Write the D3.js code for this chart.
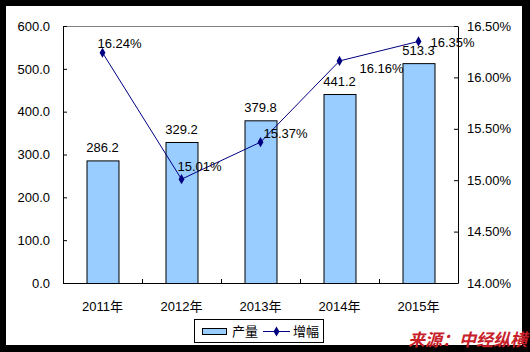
<!DOCTYPE html>
<html>
<head>
<meta charset="utf-8">
<script src="https://cdn.jsdelivr.net/npm/d3@7"></script>
<style>
  body { margin: 0; background: #000; }
  svg { display: block; }
  text { font-family: "Liberation Sans", Arial, "Noto Sans CJK SC", sans-serif; font-size: 13px; fill: #000; }
</style>
</head>
<body>
<div id="chart-area"></div>
<script>
// data
let years = ["2011年", "2012年", "2013年", "2014年", "2015年"];
let output = [286.2, 329.2, 379.8, 441.2, 513.3];
let growth = [16.24, 15.01, 15.37, 16.16, 16.35];
let leftTicks = [0, 100, 200, 300, 400, 500, 600];
let rightTicks = [14.0, 14.5, 15.0, 15.5, 16.0, 16.5];
// label offsets for the growth labels (dx, dy from point)
let growthLabelPos = [[-5, -5], [-4, -8], [3, -4], [20, 12], [12, 6]];

let W = 530, H = 352;
let margin = {left: 63, right: 72, top: 26, bottom: 69};
let width = W - margin.left - margin.right;
let height = H - margin.top - margin.bottom;

let svg = d3.select("#chart-area")
    .append("svg")
    .attr("width", W)
    .attr("height", H);

// black frame, white card
svg.append("rect").attr("width", W).attr("height", H).attr("fill", "#000");
svg.append("rect")
    .attr("x", 6).attr("y", 6)
    .attr("width", 516).attr("height", 339)
    .attr("fill", "#fff");

let g = svg.append("g")
    .attr("transform", "translate(" + margin.left + "," + margin.top + ")");

let x = d3.scaleBand()
    .domain(years)
    .range([0, width])
    .paddingInner(0.595)
    .paddingOuter(0.2975);

let xb = d3.scaleBand().domain(years).range([0, width]);

let y = d3.scaleLinear().domain([0, 600]).range([height, 0]);
let y2 = d3.scaleLinear().domain([14, 16.5]).range([height, 0]);

// top border of plot area
g.append("line")
    .attr("x1", 0).attr("x2", width)
    .attr("y1", 0.5).attr("y2", 0.5)
    .attr("stroke", "#808080");

// bars
g.selectAll("rect.bar")
    .data(output)
    .enter()
    .append("rect")
    .attr("class", "bar")
    .attr("x", (d, i) => x(years[i]) + 0.5)
    .attr("y", d => y(d) + 0.5)
    .attr("width", x.bandwidth())
    .attr("height", d => height - y(d))
    .attr("fill", "#99ccff")
    .attr("stroke", "#000")
    .attr("stroke-width", 1);

// bar labels
g.selectAll("text.barlabel")
    .data(output)
    .enter()
    .append("text")
    .attr("class", "barlabel")
    .attr("x", (d, i) => x(years[i]) + x.bandwidth() / 2)
    .attr("y", d => y(d) - 8)
    .attr("text-anchor", "middle")
    .text(d => d.toFixed(1));

// left axis
let yAxis = d3.axisLeft(y)
    .tickValues(leftTicks)
    .tickSizeInner(-4)
    .tickSizeOuter(0)
    .tickPadding(13)
    .tickFormat(d => d.toFixed(1));
let yAxisG = g.append("g").call(yAxis);

// right axis
let y2Axis = d3.axisRight(y2)
    .tickValues(rightTicks)
    .tickSizeInner(-4)
    .tickSizeOuter(0)
    .tickPadding(9)
    .tickFormat(d => d.toFixed(2) + "%");
let y2AxisG = g.append("g")
    .attr("transform", "translate(" + width + ",0)")
    .call(y2Axis);

// bottom axis
let xAxis = d3.axisBottom(xb)
    .tickSize(0)
    .tickPadding(19);
let xAxisG = g.append("g")
    .attr("transform", "translate(0," + height + ")")
    .call(xAxis);
// category separators (inward ticks)
xAxisG.selectAll(".sep")
    .data(years.slice(1))
    .enter()
    .append("line")
    .attr("x1", d => xb(d) + 0.5)
    .attr("x2", d => xb(d) + 0.5)
    .attr("y1", 0).attr("y2", -4)
    .attr("stroke", "#000");

[yAxisG, y2AxisG, xAxisG].forEach(a => {
    a.selectAll("text").style("font-size", "13px").attr("fill", "#000");
    a.selectAll("path, line").attr("stroke", "#000");
    a.attr("font-family", null).attr("font-size", null);
});

// growth line
let cx = i => xb(years[i]) + xb.bandwidth() / 2;
let line = d3.line()
    .x((d, i) => cx(i))
    .y(d => y2(d));

g.append("path")
    .datum(growth)
    .attr("d", line)
    .attr("fill", "none")
    .attr("stroke", "#000080")
    .attr("stroke-width", 1);

let diamond = d3.symbol().type(d3.symbolDiamond).size(30);
g.selectAll("path.pt")
    .data(growth)
    .enter()
    .append("path")
    .attr("class", "pt")
    .attr("d", diamond)
    .attr("transform", (d, i) => "translate(" + cx(i) + "," + y2(d) + ")")
    .attr("fill", "#000080");

g.selectAll("text.glabel")
    .data(growth)
    .enter()
    .append("text")
    .attr("class", "glabel")
    .attr("x", (d, i) => cx(i) + growthLabelPos[i][0])
    .attr("y", (d, i) => y2(d) + growthLabelPos[i][1])
    .text(d => d.toFixed(2) + "%");

// legend
let lg = svg.append("g").attr("transform", "translate(194,319)");
lg.append("rect")
    .attr("x", 0.5).attr("y", 0.5)
    .attr("width", 129).attr("height", 23)
    .attr("fill", "#fff")
    .attr("stroke", "#000");
lg.append("rect")
    .attr("x", 8.5).attr("y", 9.5)
    .attr("width", 24).attr("height", 6)
    .attr("fill", "#99ccff")
    .attr("stroke", "#000");
lg.append("text").attr("x", 38).attr("y", 16.5)
    .style("font-family", "'Noto Sans CJK SC', sans-serif")
    .style("font-size", "13px").text("产量");
lg.append("line")
    .attr("x1", 69).attr("x2", 96)
    .attr("y1", 12.5).attr("y2", 12.5)
    .attr("stroke", "#000080");
lg.append("path")
    .attr("d", diamond)
    .attr("transform", "translate(82.5,12.5)")
    .attr("fill", "#000080");
lg.append("text").attr("x", 99).attr("y", 16.5)
    .style("font-family", "'Noto Sans CJK SC', sans-serif")
    .style("font-size", "13px").text("增幅");

// watermark
svg.append("text")
    .attr("x", 408).attr("y", 346)
    .style("font-family", "'Noto Sans CJK SC', sans-serif")
    .style("font-size", "17px")
    .style("font-weight", "bold")
    .style("font-style", "italic")
    .style("fill", "#c8202a")
    .text("来源：中经纵横");
</script>
</body>
</html>
